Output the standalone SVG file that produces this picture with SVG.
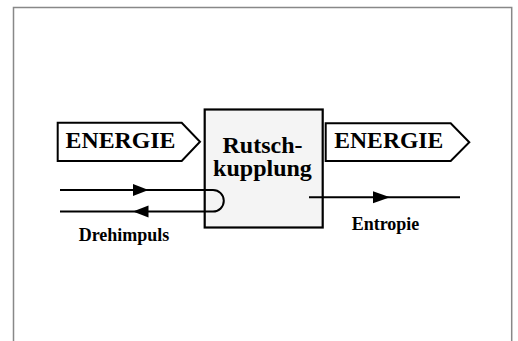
<svg xmlns="http://www.w3.org/2000/svg" width="518" height="341" viewBox="0 0 518 341">
<style>
.frame{fill:none;stroke:#888;stroke-width:1.5}
.ln{fill:none;stroke:#000;stroke-width:2}
.tag{fill:#fff;stroke:#000;stroke-width:2}
.box{fill:#f4f4f4;stroke:#000;stroke-width:2.2}
text{font-family:"Liberation Serif","Times New Roman",serif;font-weight:bold;fill:#000}
.big{font-size:24px}
.sm{font-size:18px}
</style>
<rect width="518" height="341" fill="#fff"/>
<path class="frame" d="M13.5,341 V7.5 H511.7 V341"/>
<g id="energie-in">
<path class="tag" d="M57.7,122.7 H181.7 L200,141.8 L181.7,161 H57.7 Z"/>
<text class="big" x="65.5" y="147.7" textLength="110" lengthAdjust="spacingAndGlyphs">ENERGIE</text>
</g>
<g id="rutschkupplung">
<rect class="box" x="204.7" y="109.5" width="118" height="118"/>
<text class="big" x="262.5" y="153.3" text-anchor="middle">Rutsch-</text>
<text class="big" x="262.5" y="176" text-anchor="middle">kupplung</text>
</g>
<g id="energie-out">
<path class="tag" d="M325.7,123.3 H450.7 L469.3,142.2 L450.7,161 H325.7 Z"/>
<text class="big" x="334.3" y="147.7" textLength="109" lengthAdjust="spacingAndGlyphs">ENERGIE</text>
</g>
<g id="connectors">
<path class="ln" d="M60,190 H213 A10.8,10.8 0 0 1 213,211.6 H60"/>
<polygon points="133,184 148.5,190 133,196"/>
<polygon points="148.5,205.6 133,211.6 148.5,217.6"/>
<path class="ln" d="M309,197.3 H460"/>
<polygon points="373,191.3 390,197.3 373,203.3"/>
</g>
<g id="labels">
<text class="sm" x="78.7" y="240.7">Drehimpuls</text>
<text class="sm" x="351.7" y="230">Entropie</text>
</g>
</svg>
